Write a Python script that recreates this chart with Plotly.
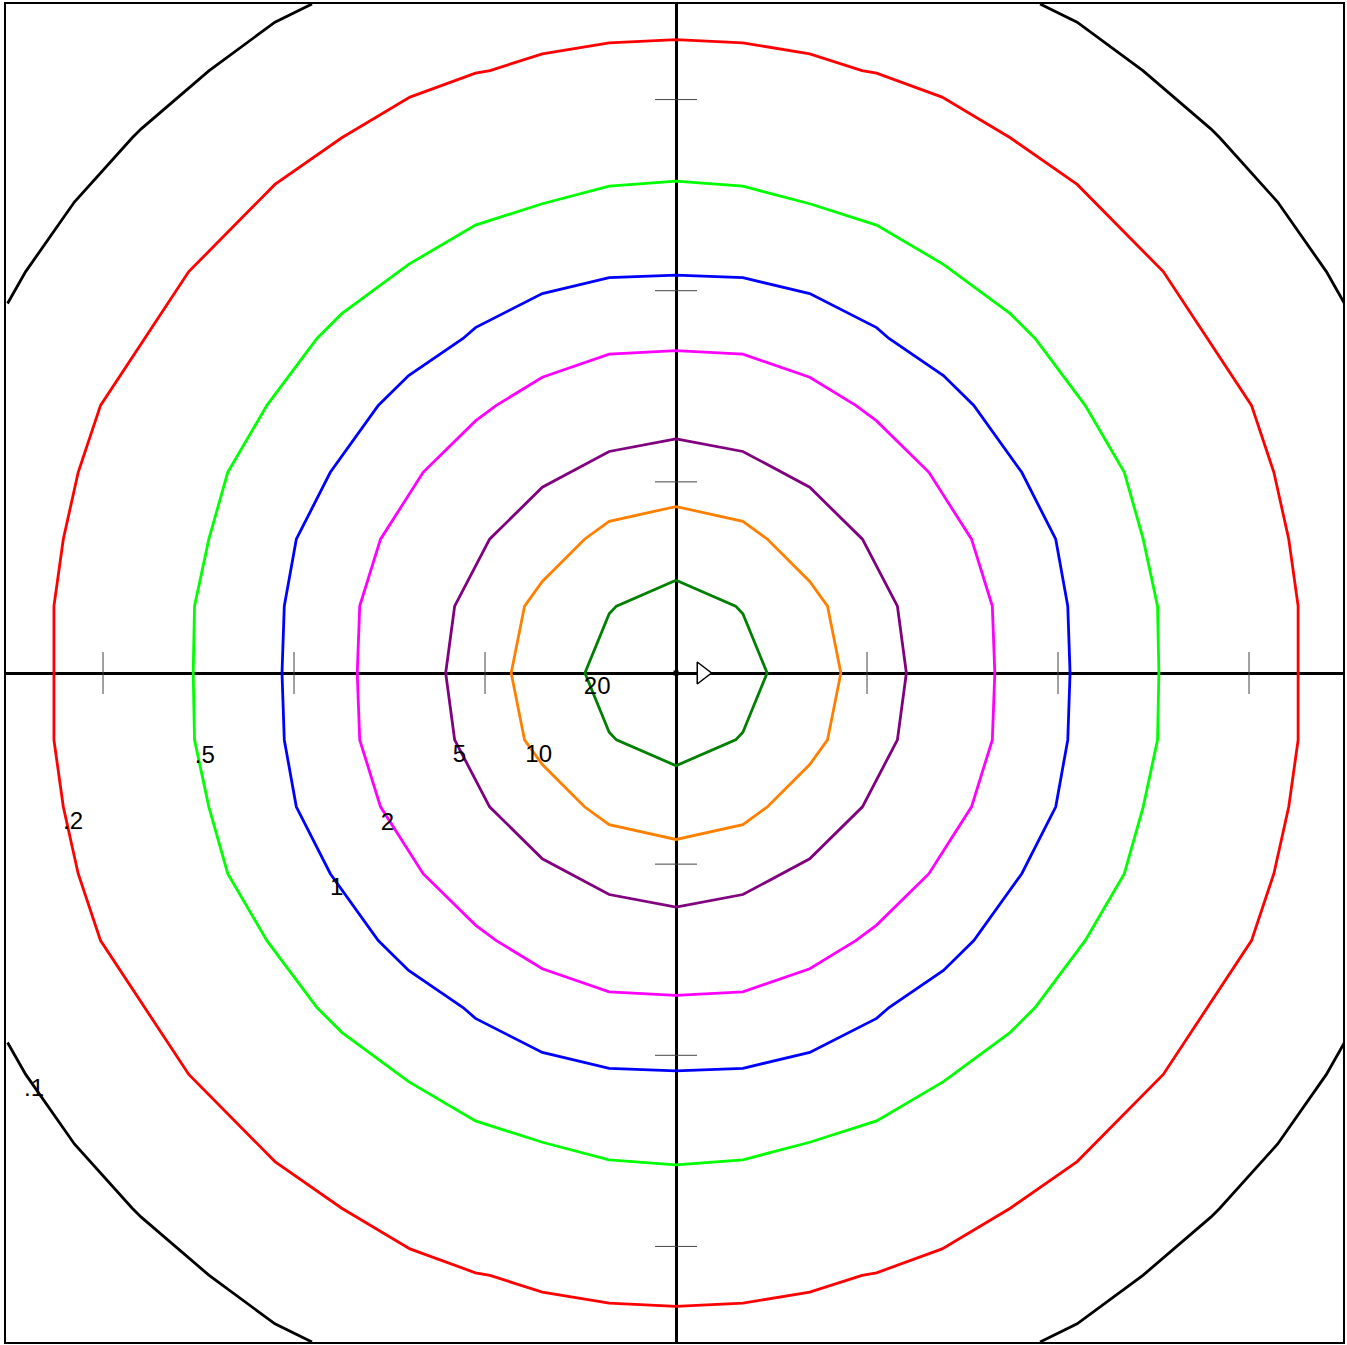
import plotly.graph_objects as go

# ---- contour vertices (first quadrant, top -> right axis), data units
LEVEL_20_X = [0.0, 0.312, 0.35, 0.477]
LEVEL_20_Y = [0.485, 0.35, 0.310, 0.0]

LEVEL_10_X = [0.0, 0.35, 0.479, 0.70, 0.793, 0.863]
LEVEL_10_Y = [0.871, 0.793, 0.70, 0.479, 0.35, 0.0]

LEVEL_5_X = [0.0, 0.35, 0.70, 0.976, 1.159, 1.206]
LEVEL_5_Y = [1.225, 1.159, 0.972, 0.70, 0.35, 0.0]

LEVEL_2_X = [0.0, 0.35, 0.70, 0.941, 1.05, 1.324, 1.547, 1.656, 1.669]
LEVEL_2_Y = [1.687, 1.668, 1.547, 1.40, 1.319, 1.05, 0.70, 0.35, 0.0]

LEVEL_1_X = [0.0, 0.35, 0.70, 1.05, 1.115, 1.40, 1.559, 1.810, 1.988, 2.051, 2.063]
LEVEL_1_Y = [2.082, 2.068, 1.985, 1.807, 1.75, 1.556, 1.40, 1.05, 0.70, 0.35, 0.0]

LEVEL_05_X = [0.0, 0.35, 0.70, 1.05, 1.40, 1.75, 1.880, 2.142, 2.347, 2.446, 2.521, 2.528]
LEVEL_05_Y = [2.573, 2.547, 2.455, 2.343, 2.138, 1.880, 1.75, 1.40, 1.05, 0.70, 0.35, 0.0]

LEVEL_02_X = [0.0, 0.35, 0.70, 0.974, 1.05, 1.393, 1.75, 2.10, 2.551, 3.013, 3.130, 3.208, 3.257, 3.257]
LEVEL_02_Y = [3.314, 3.297, 3.239, 3.152, 3.138, 3.013, 2.80, 2.556, 2.10, 1.40, 1.05, 0.70, 0.35, 0.0]

# outermost level is cut by the edge of the grid (open pieces in each corner)
LEVEL_01_X = [1.906, 2.10, 2.446, 2.80, 2.847, 3.15, 3.405, 3.50]
LEVEL_01_Y = [3.50, 3.405, 3.15, 2.847, 2.80, 2.464, 2.10, 1.933]

LEVEL_COLORS = {
    "20": "#008000", "10": "#FF8000", "5": "#800080", "2": "#FF00FF",
    "1": "#0000FF", ".5": "#00FF00", ".2": "#FF0000", ".1": "#000000",
}

# contour labels
LABEL_TEXT = [".1", ".2", ".5", "1", "2", "5", "10", "20"]
LABEL_X = [-3.361, -3.157, -2.467, -1.777, -1.511, -1.134, -0.719, -0.413]
LABEL_Y = [-2.180, -0.784, -0.439, -1.129, -0.789, -0.434, -0.436, -0.081]

# axis tick marks (crossing the central axes)
TICKS = [-3, -2, -1, 1, 2, 3]
X_RANGE = [-3.508, 3.492]
Y_RANGE = [-3.5, 3.5]

# markers at the centre
SOURCE_X, SOURCE_Y = [0.0], [0.0]
ARROW_X, ARROW_Y = [0.136], [0.0]


def closed_loop(xs, ys):
    q1 = list(zip(xs, ys))
    q4 = [(x, -y) for x, y in reversed(q1)]
    q3 = [(-x, -y) for x, y in q1]
    q2 = [(-x, y) for x, y in reversed(q1)]
    pts = q1 + q4[1:] + q3[1:] + q2[1:]
    return [p[0] for p in pts], [p[1] for p in pts]


def corner_pieces(xs, ys):
    X, Y = [], []
    for sx, sy in [(1, 1), (1, -1), (-1, -1), (-1, 1)]:
        X += [sx * x for x in xs] + [None]
        Y += [sy * y for y in ys] + [None]
    return X, Y


fig = go.Figure()

# tick marks
TICK_LEN = 0.11
tx, ty = [], []
for t in TICKS:
    tx += [t, t, None]
    ty += [-TICK_LEN, TICK_LEN, None]
    tx += [-TICK_LEN, TICK_LEN, None]
    ty += [t, t, None]
fig.add_trace(go.Scatter(x=tx, y=ty, mode="lines",
                         line=dict(color="#444444", width=1), hoverinfo="skip"))

levels = [
    ("20", LEVEL_20_X, LEVEL_20_Y),
    ("10", LEVEL_10_X, LEVEL_10_Y),
    ("5", LEVEL_5_X, LEVEL_5_Y),
    ("2", LEVEL_2_X, LEVEL_2_Y),
    ("1", LEVEL_1_X, LEVEL_1_Y),
    (".5", LEVEL_05_X, LEVEL_05_Y),
    (".2", LEVEL_02_X, LEVEL_02_Y),
]
for name, xs, ys in levels:
    X, Y = closed_loop(xs, ys)
    fig.add_trace(go.Scatter(x=X, y=Y, mode="lines", name=name,
                             line=dict(color=LEVEL_COLORS[name], width=2.8)))

X, Y = corner_pieces(LEVEL_01_X, LEVEL_01_Y)
fig.add_trace(go.Scatter(x=X, y=Y, mode="lines", name=".1",
                         line=dict(color=LEVEL_COLORS[".1"], width=2.8),
                         connectgaps=False))

fig.add_trace(go.Scatter(x=LABEL_X, y=LABEL_Y, mode="text", text=LABEL_TEXT,
                         textposition="middle center",
                         textfont=dict(family="Arial, Liberation Sans, sans-serif",
                                       size=24, color="black"),
                         hoverinfo="skip"))

fig.add_trace(go.Scatter(x=SOURCE_X, y=SOURCE_Y, mode="markers",
                         marker=dict(symbol="square", size=5, color="black")))
fig.add_trace(go.Scatter(x=ARROW_X, y=ARROW_Y, mode="markers",
                         marker=dict(symbol="triangle-right", size=19, color="white",
                                     line=dict(color="black", width=1.5))))

axis_common = dict(showgrid=False, showticklabels=False, ticks="",
                   zeroline=True, zerolinecolor="black", zerolinewidth=3,
                   showline=True, linecolor="black", linewidth=2, mirror=True,
                   fixedrange=True)
fig.update_layout(
    width=1347, height=1345,
    margin=dict(l=6, r=2, t=4, b=3),
    paper_bgcolor="white", plot_bgcolor="white",
    showlegend=False,
    xaxis=dict(range=X_RANGE, **axis_common),
    yaxis=dict(range=Y_RANGE, **axis_common),
)

fig.write_html(
    "out.html",
    config={"displayModeBar": False},
    post_script="document.body.style.margin='0';document.body.style.padding='0';"
                "document.documentElement.style.overflow='hidden';",
)
